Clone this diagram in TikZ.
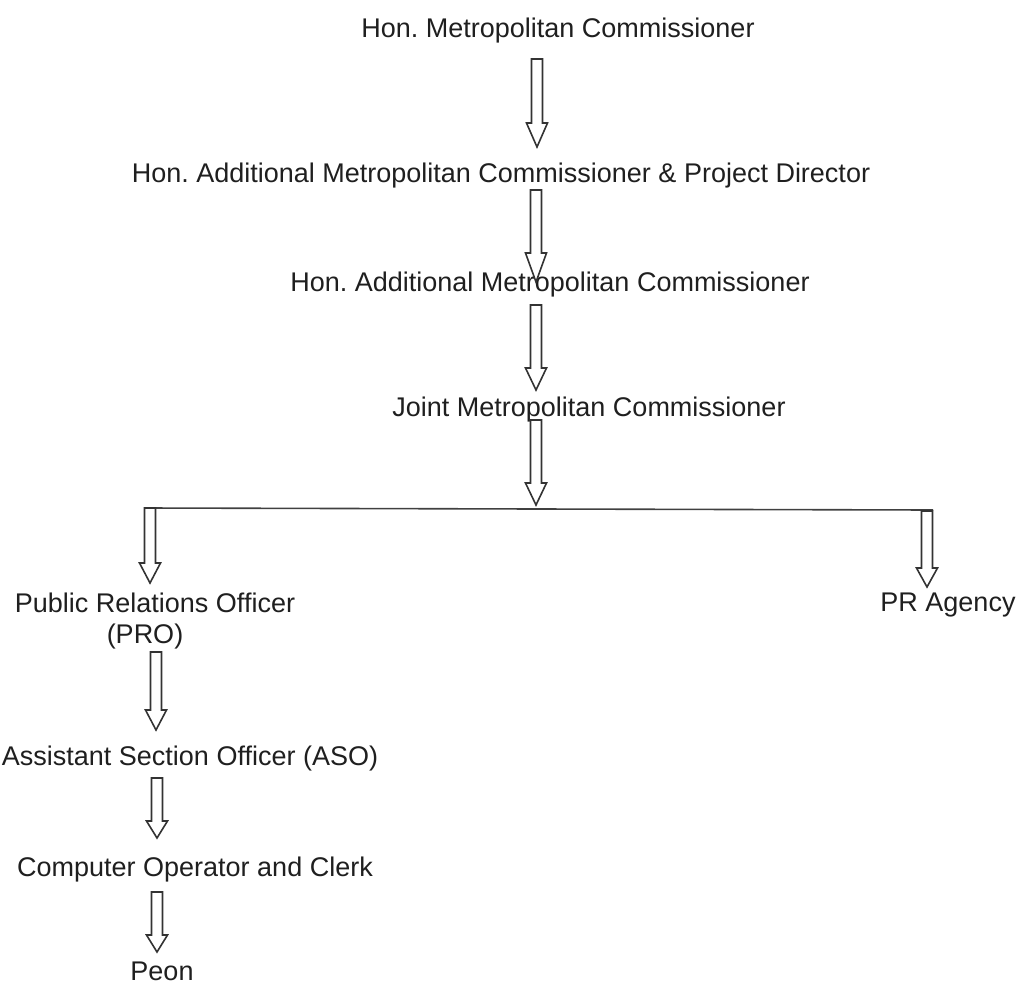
\documentclass[tikz,border=0pt]{standalone}
\usepackage{fontspec}
\setmainfont{Liberation Sans}
\usetikzlibrary{calc}
\frenchspacing
\newcommand\blockarr[3]{%
  \draw[blk] let \p1=(#1), \p2=(#2) in
    (\x1-5.5pt,\y1) -- (\x1+5.5pt,\y1) -- (\x1+5.5pt,\y2+#3pt) -- (\x1+10.5pt,\y2+#3pt)
    -- (\x2,\y2) -- (\x1-10.5pt,\y2+#3pt) -- (\x1-5.5pt,\y2+#3pt) -- cycle;}
\begin{document}
\begin{tikzpicture}[x=1pt,y=-1pt,
  lbl/.style={font=\fontsize{27}{32}\selectfont\frenchspacing, text=black!88, inner sep=0pt, anchor=base},
  blk/.style={draw=black!80, line width=1.6pt, fill=white, line join=miter},
  bar/.style={draw=black!75, line width=1.6pt}]
\useasboundingbox (0,0) rectangle (1025,990);
% texts
\node[lbl] (t1) at (558,38) {Hon. Metropolitan Commissioner};
\node[lbl] (t2) at (501,182) {Hon. Additional Metropolitan Commissioner \& Project Director};
\node[lbl] (t4) at (589,416) {Joint Metropolitan Commissioner};
\node[lbl] (p1) at (155,612) {Public Relations Officer};
\node[lbl] (p1b) at (145,643) {(PRO)};
\node[lbl] (pr) at (948,611) {PR Agency};
\node[lbl] (p2) at (190,765) {Assistant Section Officer (ASO)};
\node[lbl] (p3) at (195,876) {Computer Operator and Clerk};
\node[lbl] (p4) at (162,980) {Peon};
% arrow coordinates
\coordinate (a1s) at (537,59);  \coordinate (a1e) at (537,147);
\coordinate (a2s) at (536,190); \coordinate (a2e) at (536,282);
\coordinate (a3s) at (536,305); \coordinate (a3e) at (536,390);
\coordinate (a4s) at (536,420); \coordinate (a4e) at (536,505);
\coordinate (bl) at (145,508); \coordinate (br) at (933,510);
\coordinate (l1s) at (150,508); \coordinate (l1e) at (150,583);
\coordinate (r1s) at (927,511); \coordinate (r1e) at (927,587);
\coordinate (l2s) at (156,652); \coordinate (l2e) at (156,730);
\coordinate (l3s) at (157,778); \coordinate (l3e) at (157,838);
\coordinate (l4s) at (157,892); \coordinate (l4e) at (157,952);
\blockarr{a1s}{a1e}{24}
\blockarr{a4s}{a4e}{22}
\draw[bar] (bl) -- (br);
\blockarr{a3s}{a3e}{22}
\blockarr{l1s}{l1e}{20}
\blockarr{r1s}{r1e}{19}
\blockarr{l2s}{l2e}{20}
\blockarr{l3s}{l3e}{17}
\blockarr{l4s}{l4e}{17}
% arrow 2 overlaps text; draw unfilled so text shows through
\node[lbl] (t3) at (550,291) {Hon. Additional Metropolitan Commissioner};
\draw[blk,fill=none] let \p1=(a2s), \p2=(a2e) in
    (\x1-5.5pt,\y1) -- (\x1+5.5pt,\y1) -- (\x1+5.5pt,\y2+29pt) -- (\x1+10.5pt,\y2+29pt)
    -- (\x2,\y2) -- (\x1-10.5pt,\y2+29pt) -- (\x1-5.5pt,\y2+29pt) -- cycle;
\end{tikzpicture}
\end{document}
